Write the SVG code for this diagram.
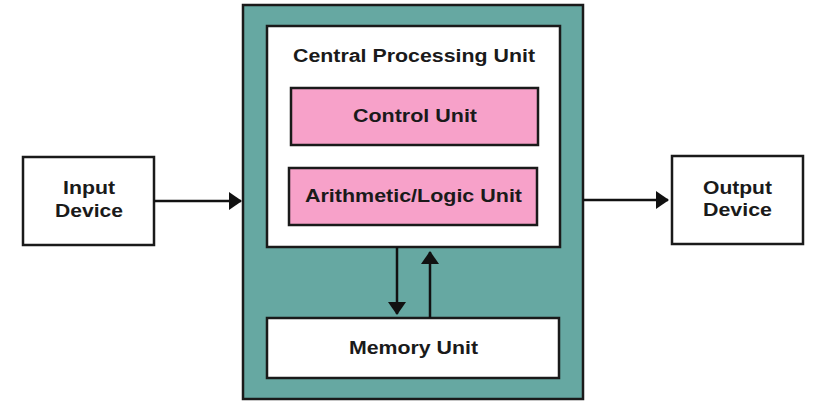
<svg xmlns="http://www.w3.org/2000/svg" width="816" height="408" viewBox="0 0 816 408">
<style>
text{font-family:"Liberation Sans",Arial,sans-serif;font-weight:bold;font-size:18px;fill:#1a1a1a;text-anchor:middle}
.box{stroke:#1a1a1a;stroke-width:2.5}
.w{fill:#fff}
.p{fill:#f7a1c9}
.t{fill:#66a8a2}
.c{stroke:#111;stroke-width:2.5;fill:none}
</style>
<defs>
<marker id="ah" markerWidth="13" markerHeight="18" refX="12" refY="9" orient="auto" markerUnits="userSpaceOnUse">
<path d="M0,0 L13,9 L0,18 z" fill="#111"/>
</marker>
</defs>
<rect width="816" height="408" fill="#fff"/>
<g id="cpu-frame"><rect class="box t" x="243" y="5" width="340" height="394"/></g>
<g id="cpu"><rect class="box w" x="267" y="26" width="293" height="221"/><text x="414" y="62" textLength="242" lengthAdjust="spacingAndGlyphs">Central Processing Unit</text></g>
<g id="control"><rect class="box p" x="291" y="88" width="247" height="57"/><text x="415" y="122" textLength="124" lengthAdjust="spacingAndGlyphs">Control Unit</text></g>
<g id="alu"><rect class="box p" x="289" y="168" width="248" height="57"/><text x="413.5" y="202" textLength="217" lengthAdjust="spacingAndGlyphs">Arithmetic/Logic Unit</text></g>
<g id="memory"><rect class="box w" x="267" y="318" width="292" height="60"/><text x="413.5" y="354" textLength="129" lengthAdjust="spacingAndGlyphs">Memory Unit</text></g>
<g id="input"><rect class="box w" x="23" y="157" width="131" height="88"/><text x="89" y="194" textLength="52" lengthAdjust="spacingAndGlyphs">Input</text><text x="89" y="217" textLength="68" lengthAdjust="spacingAndGlyphs">Device</text></g>
<g id="output"><rect class="box w" x="672" y="156" width="131" height="88"/><text x="737.5" y="194" textLength="69" lengthAdjust="spacingAndGlyphs">Output</text><text x="737.5" y="216" textLength="69" lengthAdjust="spacingAndGlyphs">Device</text></g>
<g id="connectors">
<line class="c" x1="154" y1="201" x2="241" y2="201" marker-end="url(#ah)"/>
<line class="c" x1="583" y1="200" x2="668" y2="200" marker-end="url(#ah)"/>
<line class="c" x1="397" y1="247" x2="397" y2="314" marker-end="url(#ah)"/>
<line class="c" x1="430" y1="318" x2="430" y2="252" marker-end="url(#ah)"/>
</g>
</svg>
